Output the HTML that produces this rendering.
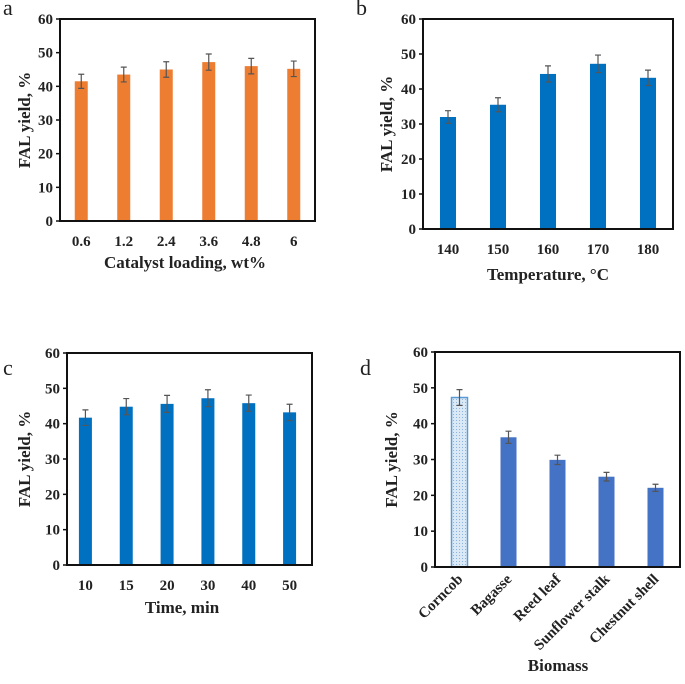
<!DOCTYPE html>
<html><head><meta charset="utf-8"><style>
body{margin:0;background:#fff}
svg{display:block;font-family:"Liberation Serif",serif}
text{font-weight:bold;fill:#222}
</style></head><body>
<svg id="s" width="685" height="684" viewBox="0 0 685 684">
<defs><pattern id="dots" width="3" height="3" patternUnits="userSpaceOnUse"><rect width="3" height="3" fill="#dbe9f7"/><rect width="1" height="1" fill="#8ab4e0"/></pattern></defs>
</svg>
<script>
const aCats=["0.6","1.2","2.4","3.6","4.8","6"];
const aVals=[41.5,43.5,45,47.2,46,45.2];
const aErr=[2.1,2.2,2.3,2.4,2.3,2.3];
const bCats=["140","150","160","170","180"];
const bVals=[32,35.5,44.3,47.2,43.2];
const bErr=[1.8,2,2.3,2.5,2.2];
const cCats=["10","15","20","30","40","50"];
const cVals=[41.7,44.8,45.6,47.2,45.8,43.2];
const cErr=[2.2,2.3,2.4,2.4,2.3,2.3];
const dCats=["Corncob","Bagasse","Reed leaf","Sunflower stalk","Chestnut shell"];
const dVals=[47.3,36.2,29.9,25.2,22.1];
const dErr=[2.2,1.7,1.3,1.2,1.0];
const yTicks=[0,10,20,30,40,50,60];
const NS="http://www.w3.org/2000/svg";
const svg=document.getElementById('s');
function el(t,a,p){const e=document.createElementNS(NS,t);for(const k in a)e.setAttribute(k,a[k]);(p||svg).appendChild(e);return e;}
function panel(o){
 const g=el('g',{});
 
 
 const y=v=>o.b-(v/60)*(o.b-o.t);
 const n=o.cats.length, step=(o.r-o.l)/n;
 const x=i=>o.l+step*(i+0.5)+o.off;
 const lt=el('text',{x:o.lx,y:o.ly,'font-size':22,style:'font-weight:normal'},g);lt.textContent=o.id;
 
 
 o.vals.forEach((v,i)=>{
  const fill=(o.pat&&i==0)?'url(#dots)':o.col;
  const r=el('rect',{x:x(i)-o.w/2,y:y(v),width:o.w,height:o.b-y(v),fill:fill,stroke:(o.pat&&i==0)?'#5b9bd5':'none','stroke-width':1.5},g);
  
  
  const e=o.err[i];
  const p=el('path',{d:`M${x(i)},${y(v+e)}V${y(v-e)}M${x(i)-3},${y(v+e)}h6M${x(i)-3},${y(v-e)}h6`,stroke:'#555','stroke-width':1.2,fill:'none'},g);
  
  
  if(o.rot){
   const t=el('text',{x:x(i)+4,y:o.b+13,'font-size':15,'text-anchor':'end',transform:`rotate(-45 ${x(i)+4} ${o.b+13})`},g);t.textContent=o.cats[i];
   
   
  }else{
   const t=el('text',{x:x(i),y:o.b+25,'font-size':15,'text-anchor':'middle'},g);t.textContent=o.cats[i];
   
   
  }
 });
 yTicks.forEach(v=>{
  el('line',{x1:o.l-4,x2:o.l,y1:y(v),y2:y(v),stroke:'#111','stroke-width':1.5},g);
  const t=el('text',{x:o.l-7,y:y(v)+5,'font-size':15,'text-anchor':'end'},g);t.textContent=v;
  
  
 });
 const box=el('rect',{x:o.l,y:o.t,width:o.r-o.l,height:o.b-o.t,fill:'none',stroke:'#111','stroke-width':2},g);
 
 
 const yt=el('text',{x:o.yx,y:(o.t+o.b)/2,'font-size':17,'text-anchor':'middle',transform:`rotate(-90 ${o.yx} ${(o.t+o.b)/2})`},g);yt.textContent='FAL  yield, %';
 
 
 const xt=el('text',{x:o.xtx,y:o.xty,'font-size':17,'text-anchor':'middle'},g);xt.textContent=o.xt;
 
 
}
panel({id:'a',cats:aCats,vals:aVals,err:aErr,l:60,r:315,t:19,b:221,off:0,w:13,col:'#ed7d31',lx:3,ly:15,yx:30,xt:'Catalyst loading, wt%',xtx:185,xty:268});
panel({id:'b',cats:bCats,vals:bVals,err:bErr,l:423,r:673,t:19,b:229,off:0,w:16,col:'#0070c0',lx:356,ly:15,yx:392,xt:'Temperature, °C',xtx:548,xty:280});
panel({id:'c',cats:cCats,vals:cVals,err:cErr,l:67,r:312,t:353,b:565,off:-2,w:13,col:'#0070c0',lx:3,ly:375,yx:30,xt:'Time, min',xtx:182,xty:613});
panel({id:'d',cats:dCats,vals:dVals,err:dErr,l:435,r:680,t:352,b:567,off:0,w:16,col:'#4472c4',pat:true,lx:360,ly:375,yx:397,xt:'Biomass',xtx:558,xty:671,rot:true});
</script>
</body></html>
